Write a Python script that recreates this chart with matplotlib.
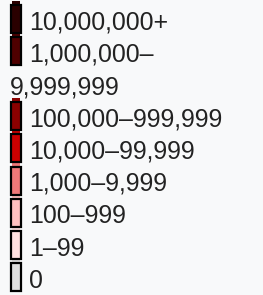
import matplotlib
matplotlib.use("Agg")
import matplotlib.pyplot as plt
from matplotlib.patches import Rectangle

labels = ["10,000,000+", "1,000,000–\n9,999,999", "100,000–999,999",
          "10,000–99,999", "1,000–9,999", "100–999", "1–99", "0"]
colors = ["#2a0000", "#4f0000", "#8b0000", "#cc0000", "#f07878",
          "#ffc0c0", "#ffe0e0", "#e0e0e0"]

W, H = 263, 295
fig = plt.figure(figsize=(W / 100, H / 100), dpi=100)
fig.patch.set_facecolor("#f8f9fa")
ax = fig.add_axes([0, 0, 1, 1])
ax.set_xlim(0, W)
ax.set_ylim(H, 0)
ax.axis("off")

line_h = 32.3
first_base = 29.5
fs = 17.9
line = 0
for lab, col in zip(labels, colors):
    base = first_base + line * line_h
    box_bot = base + 3.5
    box_top = box_bot - 28
    ax.add_patch(Rectangle((12, box_top - 4), 8, 32, facecolor=col, edgecolor="none", zorder=1))
    ax.add_patch(Rectangle((11, box_top), 10, 28, facecolor=col, edgecolor="black",
                           linewidth=1.6, zorder=2))
    parts = lab.split("\n")
    for j, p in enumerate(parts):
        x = 29.5 if j == 0 else 9.5
        ax.text(x, base + j * line_h, p, fontsize=fs, family="Liberation Sans",
                color="#222222", va="baseline", ha="left", zorder=3)
    line += len(parts)

fig.savefig("out.png", dpi=100, facecolor=fig.get_facecolor())
